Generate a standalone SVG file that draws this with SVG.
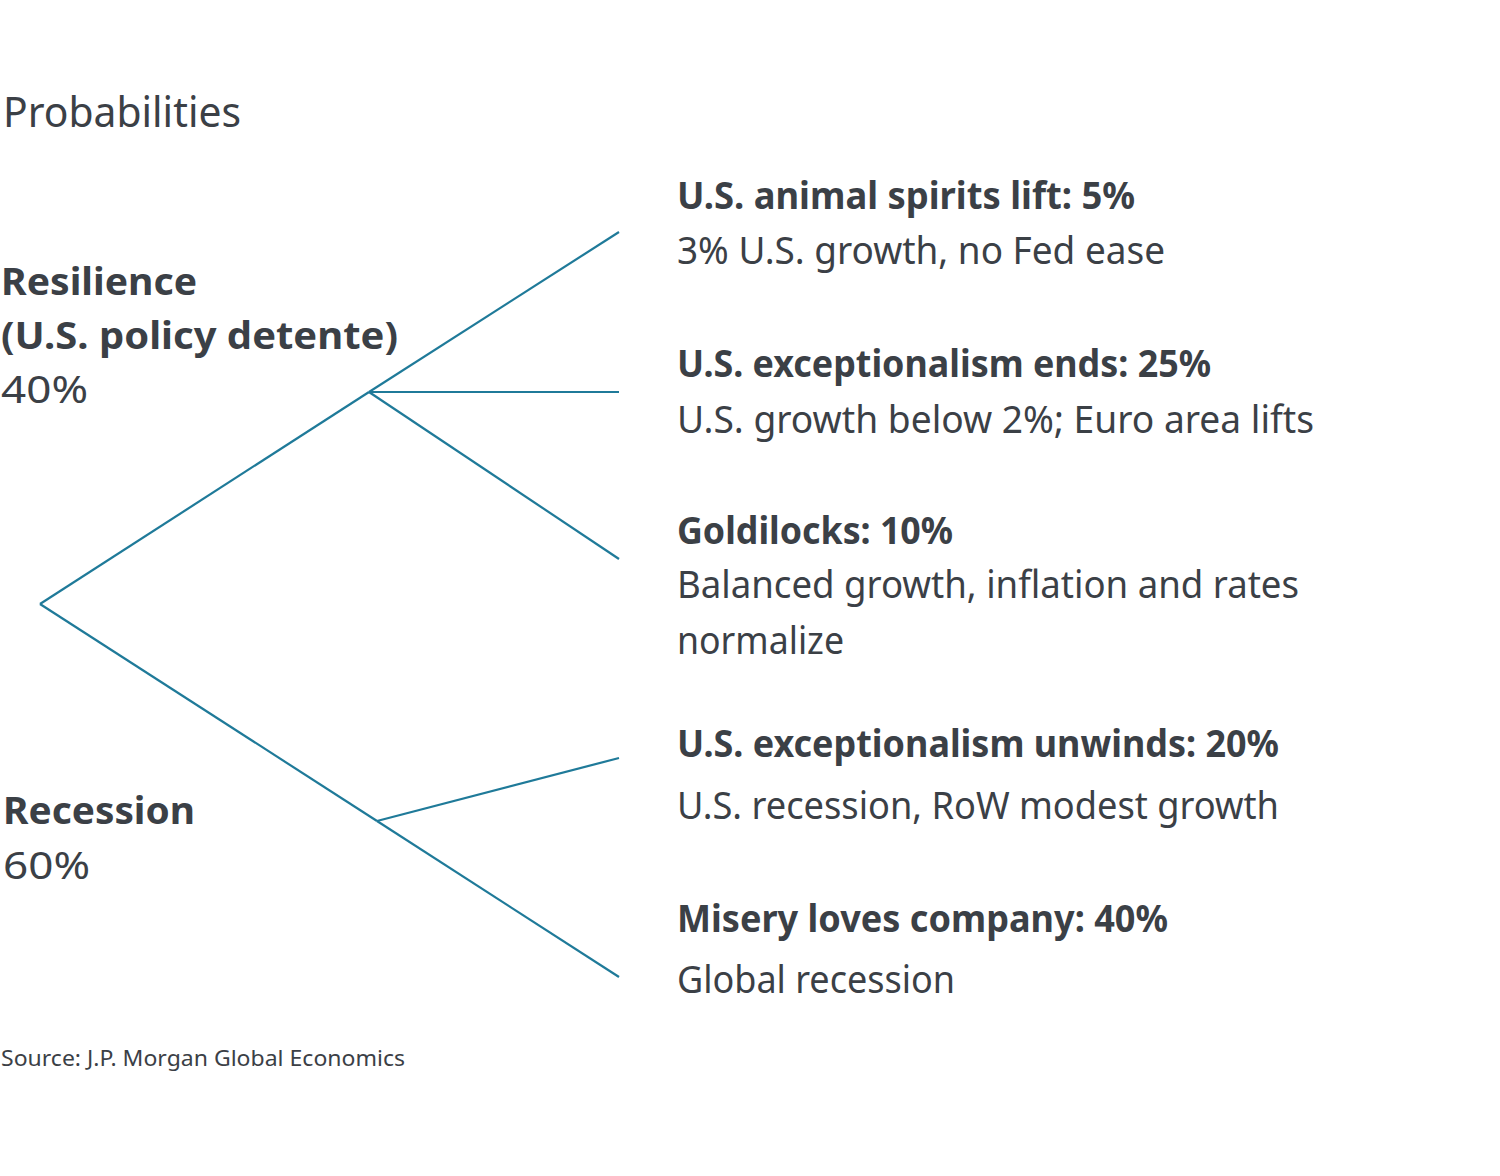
<svg xmlns="http://www.w3.org/2000/svg" width="1500" height="1176" viewBox="0 0 1500 1176">
<style>
text{font-family:"Noto Sans","DejaVu Sans",sans-serif;fill:#3b4046}
.b{font-weight:bold;font-size:38px}
.r{font-size:38px}
.t{font-size:42px}
.s{font-size:22px}
.c line{stroke:#1f7a99;stroke-width:2.2}
</style>
<rect width="1500" height="1176" fill="#fff"/>
<text class="t" x="3" y="127" textLength="238" lengthAdjust="spacingAndGlyphs">Probabilities</text>
<g class="c">
<line x1="40" y1="604" x2="369" y2="392"/>
<line x1="369" y1="392" x2="619" y2="232"/>
<line x1="369" y1="392" x2="619" y2="392"/>
<line x1="369" y1="392" x2="619" y2="559"/>
<line x1="40" y1="604" x2="377" y2="821"/>
<line x1="377" y1="821" x2="619" y2="758"/>
<line x1="377" y1="821" x2="619" y2="977"/>
</g>
<g id="resilience">
<text class="b" x="1" y="295" textLength="196" lengthAdjust="spacingAndGlyphs">Resilience</text>
<text class="b" x="1" y="349" textLength="397" lengthAdjust="spacingAndGlyphs">(U.S. policy detente)</text>
<text class="r" x="1" y="403" textLength="87" lengthAdjust="spacingAndGlyphs">40%</text>
</g>
<g id="recession">
<text class="b" x="3" y="824" textLength="192" lengthAdjust="spacingAndGlyphs">Recession</text>
<text class="r" x="3" y="879" textLength="87" lengthAdjust="spacingAndGlyphs">60%</text>
</g>
<g id="n1">
<text class="b" x="677" y="209" textLength="458" lengthAdjust="spacingAndGlyphs">U.S. animal spirits lift: 5%</text>
<text class="r" x="677" y="264" textLength="488" lengthAdjust="spacingAndGlyphs">3% U.S. growth, no Fed ease</text>
</g>
<g id="n2">
<text class="b" x="677" y="377" textLength="534" lengthAdjust="spacingAndGlyphs">U.S. exceptionalism ends: 25%</text>
<text class="r" x="677" y="433" textLength="637" lengthAdjust="spacingAndGlyphs">U.S. growth below 2%; Euro area lifts</text>
</g>
<g id="n3">
<text class="b" x="677" y="544" textLength="276" lengthAdjust="spacingAndGlyphs">Goldilocks: 10%</text>
<text class="r" x="677" y="598" textLength="622" lengthAdjust="spacingAndGlyphs">Balanced growth, inflation and rates</text>
<text class="r" x="677" y="654" textLength="167" lengthAdjust="spacingAndGlyphs">normalize</text>
</g>
<g id="n4">
<text class="b" x="677" y="757" textLength="602" lengthAdjust="spacingAndGlyphs">U.S. exceptionalism unwinds: 20%</text>
<text class="r" x="677" y="819" textLength="602" lengthAdjust="spacingAndGlyphs">U.S. recession, RoW modest growth</text>
</g>
<g id="n5">
<text class="b" x="677" y="932" textLength="491" lengthAdjust="spacingAndGlyphs">Misery loves company: 40%</text>
<text class="r" x="677" y="993" textLength="278" lengthAdjust="spacingAndGlyphs">Global recession</text>
</g>
<text class="s" x="1" y="1066" textLength="404" lengthAdjust="spacingAndGlyphs">Source: J.P. Morgan Global Economics</text>
</svg>
